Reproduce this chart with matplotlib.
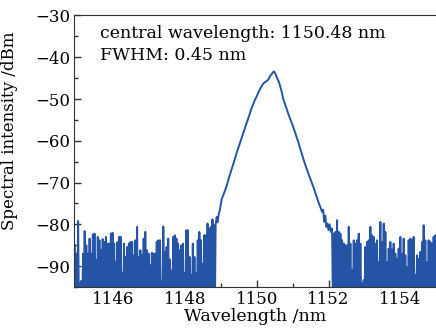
import numpy as np
import matplotlib
matplotlib.use('Agg')
import matplotlib.pyplot as plt
from matplotlib.ticker import MultipleLocator

# noise spike tops (dBm), left of the peak, 1145.0 -> 1148.83 nm
noise_left = [-85.0, -87.0, -79.2, -94.0, -93.5, -87.0, -81.6, -85.0, -87.0, -83.4,
              -87.0, -82.4, -82.2, -88.5, -83.0, -83.8, -86.2, -83.5, -84.2, -83.0,
              -84.6, -84.6, -82.2, -82.0, -84.6, -88.9, -84.2, -83.0, -83.0, -91.7,
              -84.6, -87.8, -85.4, -84.6, -84.2, -84.2, -87.4, -83.8, -80.6, -87.8,
              -86.2, -87.4, -83.4, -81.8, -86.2, -87.0, -89.8, -86.8, -87.0, -87.0,
              -84.2, -83.8, -83.8, -93.7, -80.5, -86.6, -85.4, -83.4, -88.4, -91.0,
              -83.0, -82.6, -83.4, -84.6, -86.2, -85.0, -84.6, -91.7, -81.4, -81.4,
              -87.8, -92.1, -84.6, -87.8, -91.7, -83.8, -81.8, -83.8, -89.4, -82.6,
              -82.6, -79.8, -81.0, -80.6, -78.8, -80.2]
# main emission peak, 1148.85 -> 1152.0 nm
peak_wl = [1148.85, 1148.88, 1148.90, 1148.93, 1148.97, 1149.02, 1149.09, 1149.16,
           1149.23, 1149.30, 1149.37, 1149.44, 1149.51, 1149.58, 1149.65, 1149.72,
           1149.79, 1149.86, 1149.91, 1149.95, 1150.00, 1150.05, 1150.10, 1150.18,
           1150.24, 1150.28, 1150.33, 1150.37, 1150.42, 1150.45, 1150.48, 1150.52,
           1150.56, 1150.61, 1150.65, 1150.70, 1150.74, 1150.81, 1150.88, 1150.95,
           1151.02, 1151.09, 1151.16, 1151.23, 1151.30, 1151.37, 1151.44, 1151.51,
           1151.58, 1151.65, 1151.72, 1151.77, 1151.82, 1151.85, 1151.88, 1151.91,
           1151.94, 1151.97, 1152.00, 1152.03, 1152.07]
peak_db = [-80.0, -78.2, -79.5, -77.9, -76.4, -73.9, -72.4, -70.7, -68.6, -66.7,
           -64.8, -62.8, -61.0, -59.2, -57.4, -55.6, -53.9, -52.0, -51.0, -50.1,
           -49.3, -48.3, -47.4, -46.3, -45.9, -45.7, -45.2, -44.5, -44.0, -43.6,
           -43.4, -44.0, -44.9, -45.8, -46.9, -48.5, -50.1, -51.8, -53.6, -55.2,
           -56.8, -58.6, -60.4, -62.4, -64.4, -66.2, -67.9, -69.5, -71.1, -72.9,
           -74.7, -75.8, -77.0, -76.5, -79.4, -77.9, -80.6, -79.8, -81.4, -80.0,
           -81.8]
# noise spike tops (dBm), right of the peak, 1152.1 -> 1155.0 nm
noise_right = [-81.0, -82.2, -81.8, -79.0, -81.8, -82.2, -83.8, -84.6, -85.0, -85.0,
               -80.6, -84.6, -91.0, -83.8, -84.6, -83.8, -82.2, -84.6, -94.1, -93.3,
               -85.4, -84.2, -83.8, -80.6, -82.6, -83.0, -84.6, -83.8, -89.0, -79.4,
               -84.2, -79.8, -81.8, -89.0, -85.8, -84.2, -86.0, -84.6, -87.0, -88.2,
               -85.8, -83.0, -87.0, -83.4, -87.4, -90.2, -83.8, -83.4, -83.8, -83.0,
               -92.1, -87.4, -88.2, -86.6, -84.2, -80.2, -83.8, -89.0, -83.8, -84.2,
               -84.6, -83.0, -82.6, -82.6]
noise_floor = -100.0  # troughs lie below the plotted range


def spikes(tops, start, stop):
    wl = np.linspace(start, stop, 2 * len(tops))
    db = np.empty(2 * len(tops))
    db[0::2] = tops
    db[1::2] = noise_floor
    return wl, db


wl_l, db_l = spikes(noise_left, 1144.92, 1148.83)
wl_r, db_r = spikes(noise_right, 1152.10, 1155.05)
wavelength = np.concatenate([wl_l, peak_wl, wl_r])
intensity = np.concatenate([db_l, peak_db, db_r])

plt.rcParams['font.family'] = 'DejaVu Serif'
plt.rcParams['mathtext.fontset'] = 'dejavuserif'

fig = plt.figure(figsize=(4.36, 3.35), dpi=100)
ax = fig.add_axes([0.170, 0.143, 0.830, 0.811])
ax.plot(wavelength, intensity, color='#2553a5', lw=1.4)

ax.set_xlim(1144.9, 1155.0)
ax.set_ylim(-95, -30)
ax.xaxis.set_major_locator(MultipleLocator(2))
ax.xaxis.set_minor_locator(MultipleLocator(1))
ax.yaxis.set_major_locator(MultipleLocator(10))
ax.yaxis.set_minor_locator(MultipleLocator(5))
ax.tick_params(which='both', direction='in', labelsize=12, top=False, right=False,
               colors='#333333', labelcolor='black')
ax.tick_params(which='major', length=5, width=1, pad=3)
ax.tick_params(which='minor', length=3, width=1)
ax.spines['right'].set_visible(False)
for s in ['top', 'bottom', 'left']:
    ax.spines[s].set_color('#333333')

ax.set_xlabel('Wavelength /nm', fontsize=12.5, labelpad=0)
ax.set_ylabel('Spectral intensity /dBm', fontsize=12)
ax.yaxis.set_label_coords(-0.155, 0.575)
ax.text(0.072, 0.965, 'central wavelength: 1150.48 nm', transform=ax.transAxes,
        fontsize=12.5, va='top')
ax.text(0.072, 0.885, 'FWHM: 0.45 nm', transform=ax.transAxes,
        fontsize=12.5, va='top')

fig.savefig('out.png', dpi=100)
